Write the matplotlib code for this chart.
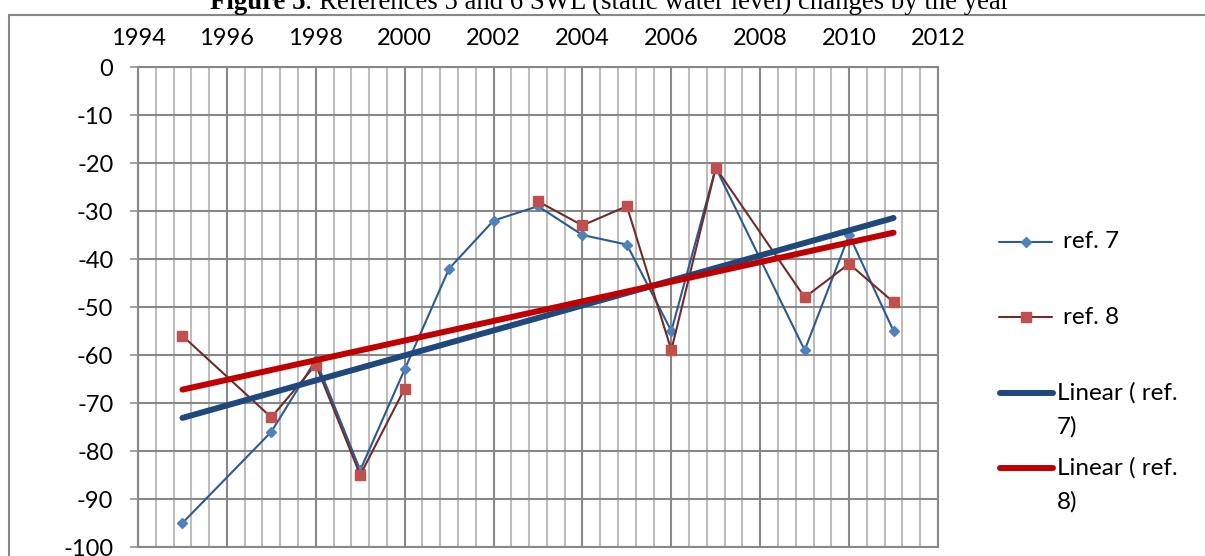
import numpy as np
import matplotlib
matplotlib.use("Agg")
import matplotlib.pyplot as plt
from matplotlib.lines import Line2D
from matplotlib.patches import Rectangle
from matplotlib.ticker import MultipleLocator

plt.rcParams['font.family'] = ['Lato', 'DejaVu Sans']
plt.rcParams['axes.unicode_minus'] = False

# static water level by year, two reference wells
years_7 = [1995, 1997, 1998, 1999, 2000, 2001, 2002, 2003, 2004, 2005, 2006, 2007, 2009, 2010, 2011]
swl_7 = [-95, -76, -61, -84, -63, -42, -32, -29, -35, -37, -55, -21, -59, -35, -55]
years_8 = [1995, 1997, 1998, 1999, 2000, 2001, 2002, 2003, 2004, 2005, 2006, 2007, 2009, 2010, 2011]
swl_8 = [-56, -73, -62, -85, -67, np.nan, np.nan, -28, -33, -29, -59, -21, -48, -41, -49]

W, H = 1205, 556
def fx(px):
    return px / W
def fy(py):
    return 1 - py / H

grey = '#888888'
light = '#bdbdbd'
c7_line, c7_mark = '#2b5a94', '#4f81bd'
c8_line, c8_mark = '#6e2c2b', '#c0504d'
c7_trend, c8_trend = '#1f497d', '#c00000'
fs = 17
lfs = 17.5

fig = plt.figure(figsize=(W / 100, H / 100), dpi=100)
ax = fig.add_axes([fx(138), fy(547), 800 / W, 480 / H])

ax.plot(years_7, swl_7, color=c7_line, lw=1.5, marker='D', ms=5.2,
        mfc=c7_mark, mec=c7_mark, zorder=3)
ax.plot(years_8, swl_8, color=c8_line, lw=1.5, marker='s', ms=7,
        mfc=c8_mark, mec=c8_mark, zorder=4)

# least-squares trend lines over the years each series covers
for yrs, vals, col in [(years_7, swl_7, c7_trend), (years_8, swl_8, c8_trend)]:
    yrs = np.array(yrs, float)
    vals = np.array(vals, float)
    ok = ~np.isnan(vals)
    k, b = np.polyfit(yrs[ok], vals[ok], 1)
    xs = np.array([yrs[ok].min(), yrs[ok].max()])
    ax.plot(xs, k * xs + b, color=col, lw=4.3, solid_capstyle='round', zorder=5)

ax.set_xlim(1994, 2012)
ax.set_ylim(-100, 0)
ax.xaxis.set_major_locator(MultipleLocator(2))
ax.xaxis.set_minor_locator(MultipleLocator(0.4))
ax.set_yticks(np.arange(-100, 1, 10))
ax.xaxis.tick_top()
ax.tick_params(axis='x', which='both', length=0, pad=13, labelsize=fs)
ax.tick_params(axis='y', length=5.8, width=1.1, color=grey, pad=12, labelsize=fs)
ax.grid(which='major', color=grey, lw=1.5)
ax.grid(which='minor', axis='x', color=light, lw=1.5)
ax.set_axisbelow(True)
for s in ax.spines.values():
    s.set_color(grey)
    s.set_linewidth(1.5)

# legend on the right
def handle(y, col, lw, marker=None, mcol=None, ms=0, x0=999, x1=1052):
    fig.add_artist(Line2D([fx(x0), fx(x1)], [fy(y), fy(y)], transform=fig.transFigure,
                          color=col, lw=lw, solid_capstyle='round'))
    if marker:
        fig.add_artist(Line2D([fx((x0 + x1) / 2)], [fy(y)], transform=fig.transFigure,
                              marker=marker, ms=ms, mfc=mcol, mec=mcol, lw=0))

handle(242, c7_line, 1.5, 'D', c7_mark, 5.2)
fig.text(fx(1063), fy(242), 'ref. 7', fontsize=lfs, va='center')
handle(317, c8_line, 1.5, 's', c8_mark, 7)
fig.text(fx(1063), fy(317), 'ref. 8', fontsize=lfs, va='center')
handle(393, c7_trend, 4.3, x0=1000, x1=1053)
fig.text(fx(1057), fy(393), 'Linear ( ref.', fontsize=lfs, va='center')
fig.text(fx(1057), fy(427), '7)', fontsize=lfs, va='center')
handle(468, c8_trend, 4.3, x0=1000, x1=1053)
fig.text(fx(1057), fy(468), 'Linear ( ref.', fontsize=lfs, va='center')
fig.text(fx(1057), fy(502), '8)', fontsize=lfs, va='center')

# chart frame
fig.add_artist(Rectangle((fx(9), -0.2), 1.2, fy(15) + 0.2, transform=fig.transFigure,
                         fill=False, edgecolor='#878787', lw=1.5))

# caption, bold label followed by plain text
t1 = fig.text(0, fy(9), 'Figure 5', family='Liberation Serif', weight='bold',
              fontsize=19.3, va='baseline')
t2 = fig.text(0, fy(9), ': References 5 and 6 SWL (static water level) changes by the year',
              family='Liberation Serif', fontsize=19.3, va='baseline')
r = fig.canvas.get_renderer()
w1 = t1.get_window_extent(r).width
w2 = t2.get_window_extent(r).width
left = 610 - (w1 + w2) / 2
t1.set_x(fx(left))
t2.set_x(fx(left + w1))

fig.savefig('out.png', dpi=100)
